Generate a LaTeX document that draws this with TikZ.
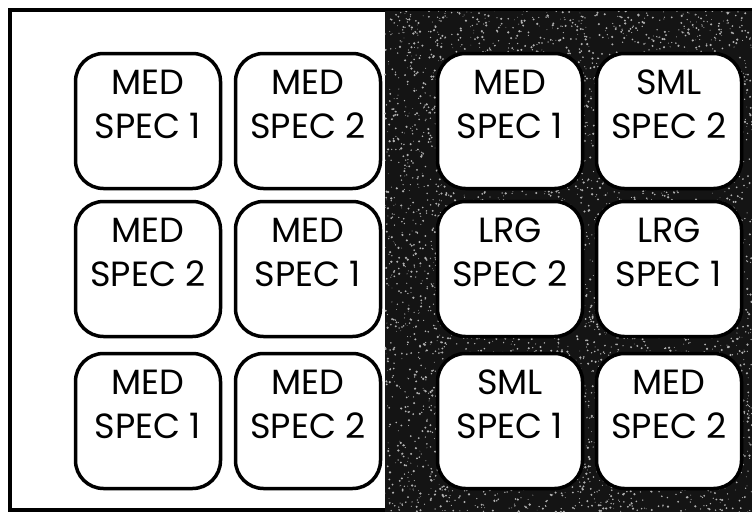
\documentclass[tikz,border=0pt]{standalone}
\usepackage{fontspec}
\setmainfont{Poppins}
\begin{document}
\begin{tikzpicture}[x=1pt,y=-1pt,
  cell/.style={draw=black, fill=white, line width=3.5pt, rounded corners=28pt,
    minimum width=145pt, minimum height=135pt, inner sep=0pt},
  celltext/.style={align=center, inner sep=0pt,
    font=\fontsize{35}{44}\selectfont, anchor=north}]
\useasboundingbox (0,0) rectangle (752,512);
% dark textured panel
\fill[black!92] (385,9) rectangle (752,512);
\pgfmathsetseed{7}
\foreach \i in {1,...,5500}{
  \pgfmathsetmacro{\rx}{385+rnd*367}
  \pgfmathsetmacro{\ry}{9+rnd*503}
  \pgfmathsetmacro{\rr}{0.35+rnd*0.9}
  \fill[white!70!black] (\rx,\ry) circle (\rr);
}
% white panel border
\draw[line width=3.5pt] (385,10) -- (10,10) -- (10,510) -- (385,510);
\draw[line width=3pt] (385,9) -- (752,9);
% boxes
\foreach \nm/\cx/\cy/\a/\b in {
  b11/148/121/MED/SPEC 1, b12/308/121/MED/SPEC 2,
  b21/148/269/MED/SPEC 2, b22/308/269/MED/SPEC 1,
  b31/148/421/MED/SPEC 1, b32/308/421/MED/SPEC 2,
  b13/510/121/MED/SPEC 1, b14/669/121/SML/SPEC 2,
  b23/510/269/LRG/SPEC 2, b24/669/269/LRG/SPEC 1,
  b33/510/421/SML/SPEC 1, b34/669/421/MED/SPEC 2}{
  \node[cell] (\nm) at (\cx,\cy) {};
  \node[celltext] (\nm t) at ([yshift=-18pt]\nm.north) {\a\\\b};
}
\end{tikzpicture}
\end{document}
